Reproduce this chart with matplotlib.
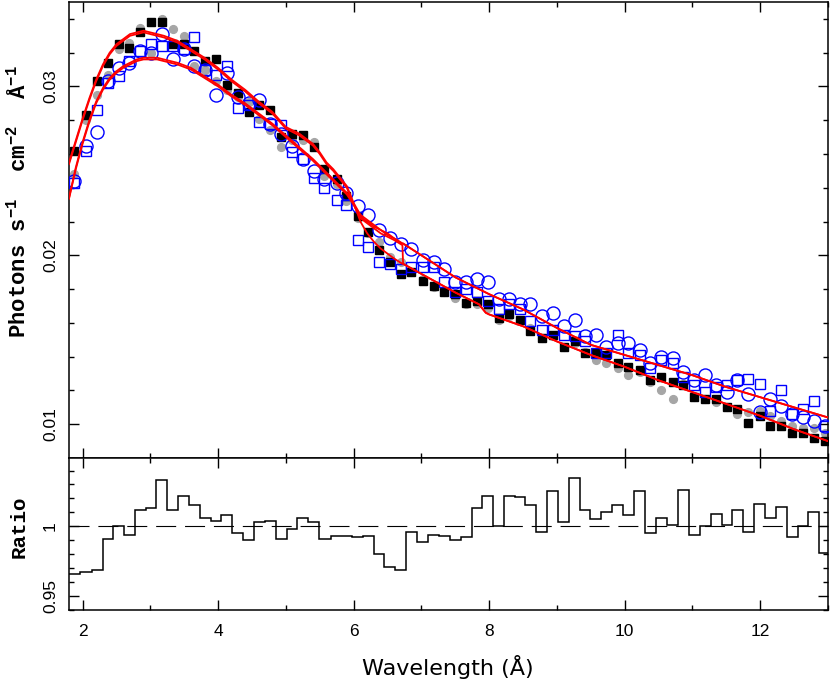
import matplotlib
matplotlib.use('Agg')
import matplotlib.pyplot as plt
from matplotlib.ticker import MultipleLocator, FormatStrFormatter
import numpy as np

# wavelength of each spectral bin (Angstrom)
wave = [1.88, 2.05, 2.22, 2.37, 2.54, 2.69, 2.85, 3.01, 3.17, 3.33,
        3.50, 3.65, 3.81, 3.97, 4.13, 4.29, 4.45, 4.61, 4.77, 4.93,
        5.09, 5.25, 5.41, 5.57, 5.75, 5.89, 6.06, 6.21, 6.38, 6.53,
        6.70, 6.85, 7.02, 7.18, 7.34, 7.50, 7.66, 7.82, 7.98, 8.14,
        8.30, 8.46, 8.61, 8.78, 8.94, 9.10, 9.26, 9.42, 9.57, 9.73,
        9.90, 10.05, 10.22, 10.38, 10.54, 10.71, 10.86, 11.03, 11.19, 11.35,
        11.51, 11.66, 11.82, 11.99, 12.15, 12.31, 12.47, 12.63, 12.79, 12.95]

flux_black = [0.0262, 0.0283, 0.0303, 0.0314, 0.0325, 0.0323, 0.0332, 0.0338, 0.0338, 0.0325,
              0.0325, 0.0321, 0.0315, 0.0316, 0.0301, 0.0296, 0.0285, 0.0289, 0.0286, 0.0270,
              0.0272, 0.0271, 0.0264, 0.0251, 0.0245, 0.0235, 0.0223, 0.0214, 0.0203, 0.0196,
              0.0189, 0.0190, 0.0185, 0.0182, 0.0178, 0.0177, 0.0172, 0.0173, 0.0171, 0.0163,
              0.0165, 0.0162, 0.0155, 0.0151, 0.0153, 0.0146, 0.0149, 0.0142, 0.0142, 0.0141,
              0.0136, 0.0134, 0.0132, 0.0126, 0.0128, 0.0125, 0.0123, 0.0116, 0.0115, 0.0115,
              0.0110, 0.0109, 0.0101, 0.0105, 0.0099, 0.0099, 0.0095, 0.0095, 0.0092, 0.0090]

flux_gray = [0.0248, 0.0280, 0.0295, 0.0307, 0.0322, 0.0326, 0.03345, 0.0320, 0.0340, 0.0334,
             0.0330, 0.0312, 0.0310, 0.0303, 0.0298, 0.0294, 0.0291, 0.0281, 0.0274, 0.0264,
             0.0268, 0.0268, 0.0267, 0.0247, 0.0242, 0.0232, 0.0222, 0.0213, 0.0208, 0.0199,
             0.0196, 0.0190, 0.0186, 0.0181, 0.0178, 0.0175, 0.0171, 0.0171, 0.0169, 0.0162,
             0.0164, 0.0161, 0.0157, 0.0151, 0.0152, 0.0146, 0.0148, 0.0143, 0.0138, 0.0136,
             0.0133, 0.0129, 0.0131, 0.0125, 0.0120, 0.0115, 0.0124, 0.0116, 0.0115, 0.0113,
             0.0110, 0.0106, 0.0107, 0.0108, 0.0105, 0.0102, 0.0099, 0.0098, 0.0098, 0.0095]

flux_bsq = [0.0243, 0.0262, 0.0286, 0.0302, 0.0306, 0.0315, 0.0321, 0.0325, 0.0324, 0.0324,
            0.0322, 0.0329, 0.0310, 0.0307, 0.0312, 0.0287, 0.0289, 0.0279, 0.0278, 0.0277,
            0.0261, 0.0257, 0.0246, 0.0240, 0.0233, 0.0230, 0.0209, 0.0205, 0.0196, 0.0195,
            0.0192, 0.0193, 0.0193, 0.0193, 0.0184, 0.0178, 0.0180, 0.0178, 0.0173, 0.0168,
            0.0171, 0.0168, 0.0161, 0.0156, 0.0156, 0.0153, 0.0152, 0.0149, 0.0142, 0.0142,
            0.0153, 0.0142, 0.0141, 0.0133, 0.0138, 0.0136, 0.0128, 0.0123, 0.0119, 0.0122,
            0.0123, 0.0126, 0.0127, 0.0124, 0.0108, 0.0120, 0.0106, 0.0109, 0.0114, 0.0099]

flux_bci = [0.0244, 0.0265, 0.0273, 0.0303, 0.0311, 0.0314, 0.0321, 0.0320, 0.0331, 0.0316,
            0.0322, 0.0312, 0.0310, 0.0295, 0.0308, 0.0294, 0.0290, 0.0292, 0.0278, 0.0272,
            0.0265, 0.0257, 0.0250, 0.0245, 0.0243, 0.0237, 0.0229, 0.0224, 0.0215, 0.0210,
            0.0207, 0.0204, 0.0197, 0.0196, 0.0192, 0.0184, 0.0184, 0.0186, 0.0184, 0.0174,
            0.0174, 0.0171, 0.0171, 0.0164, 0.0166, 0.0158, 0.0162, 0.0152, 0.0153, 0.0146,
            0.0148, 0.0148, 0.0144, 0.0136, 0.0140, 0.0139, 0.0131, 0.0126, 0.0129, 0.0123,
            0.0119, 0.0126, 0.0118, 0.0107, 0.0115, 0.0111, 0.0106, 0.0104, 0.0102, 0.0099]

ratio = [0.966, 0.967, 0.969, 0.991, 1.000, 0.994, 1.012, 1.013, 1.033, 1.012,
         1.022, 1.015, 1.006, 1.004, 1.008, 0.995, 0.990, 1.003, 1.004, 0.991,
         0.998, 1.006, 1.003, 0.991, 0.993, 0.993, 0.992, 0.993, 0.980, 0.971,
         0.969, 0.996, 0.989, 0.994, 0.993, 0.990, 0.992, 1.013, 1.022, 1.000,
         1.022, 1.021, 1.015, 0.996, 1.025, 1.003, 1.035, 1.012, 1.005, 1.010,
         1.015, 1.008, 1.025, 0.995, 1.006, 1.001, 1.026, 0.994, 1.000, 1.009,
         1.001, 1.012, 0.996, 1.016, 1.006, 1.014, 0.992, 1.000, 1.010, 0.981]

# model curves
model_wave = [1.8, 1.9, 2.0, 2.1, 2.2, 2.3, 2.4, 2.5, 2.6, 2.7,
              2.8, 2.9, 3.0, 3.1, 3.2, 3.4, 3.6, 3.8, 4.0, 4.2,
              4.4, 4.6, 4.8, 5.0, 5.2, 5.4, 5.5, 5.6, 5.7, 5.8,
              5.9, 6.0, 6.1, 6.2, 6.3, 6.4, 6.5, 6.6, 6.72, 6.73,
              7.0, 7.5, 7.85, 7.95, 8.0, 8.5, 9.0, 9.5, 10.0, 10.5,
              11.0, 11.5, 12.0, 12.5, 13.0]

model_black = [0.0255, 0.0268, 0.0281, 0.0293, 0.0304, 0.0313, 0.0320, 0.0325, 0.0328, 0.0331,
               0.0332, 0.0333, 0.0332, 0.0331, 0.0330, 0.0327, 0.0322, 0.0317, 0.0311, 0.0304,
               0.0298, 0.0291, 0.0285, 0.0276, 0.0272, 0.0266, 0.0261, 0.0255, 0.0251, 0.0246,
               0.0241, 0.0231, 0.0220, 0.0213, 0.0208, 0.0204, 0.0201, 0.0198, 0.0195, 0.0195,
               0.0189, 0.0178, 0.0171, 0.0166, 0.0165, 0.0158, 0.0149, 0.0141, 0.0134, 0.0126,
               0.0119, 0.0112, 0.0105, 0.0097, 0.0090]

model_gray = [0.0254, 0.0267, 0.0280, 0.0292, 0.0303, 0.0312, 0.0319, 0.0324, 0.0327, 0.0330,
              0.0331, 0.0332, 0.0331, 0.0330, 0.0329, 0.0326, 0.0321, 0.0316, 0.0310, 0.0303,
              0.0297, 0.0290, 0.0284, 0.0275, 0.0271, 0.0265, 0.0260, 0.0254, 0.0250, 0.0245,
              0.0240, 0.0230, 0.0222, 0.0219, 0.0216, 0.0213, 0.0211, 0.0209, 0.0206, 0.0195,
              0.0189, 0.0178, 0.0171, 0.0166, 0.0165, 0.0158, 0.0149, 0.0141, 0.0134, 0.0126,
              0.0119, 0.0112, 0.0105, 0.0097, 0.0090]

model_bsq = [0.02335, 0.0251, 0.0266, 0.0279, 0.0290, 0.0298, 0.0304, 0.0308, 0.0311, 0.0313,
             0.0315, 0.0316, 0.0316, 0.0316, 0.0315, 0.0313, 0.0310, 0.0305, 0.0300, 0.0294,
             0.0289, 0.0283, 0.0277, 0.0270, 0.0263, 0.0256, 0.0252, 0.0248, 0.0244, 0.0240,
             0.0236, 0.0230, 0.0223, 0.0220, 0.0217, 0.0215, 0.0212, 0.0210, 0.0207, 0.0207,
             0.0200, 0.0187, 0.0180, 0.0178, 0.0177, 0.0168, 0.0157, 0.0147, 0.0141, 0.0135,
             0.0129, 0.0122, 0.0116, 0.0110, 0.0104]

model_bci = [0.0234, 0.0252, 0.0267, 0.0280, 0.0291, 0.0299, 0.0305, 0.0309, 0.0312, 0.0314,
             0.0316, 0.0317, 0.0317, 0.0317, 0.0316, 0.0314, 0.0311, 0.0306, 0.0301, 0.0295,
             0.0290, 0.0284, 0.0278, 0.0271, 0.0264, 0.0257, 0.0253, 0.0249, 0.0245, 0.0241,
             0.0237, 0.0231, 0.0224, 0.0221, 0.0218, 0.0215, 0.0213, 0.0210, 0.0207, 0.0207,
             0.0200, 0.0187, 0.0180, 0.0178, 0.0177, 0.0168, 0.0157, 0.0147, 0.0141, 0.0135,
             0.0129, 0.0122, 0.0116, 0.0110, 0.0104]

plt.rcParams['font.family'] = ['Liberation Sans', 'DejaVu Sans']
plt.rcParams['mathtext.fontset'] = 'custom'
plt.rcParams['mathtext.rm'] = 'Liberation Mono:bold'
plt.rcParams['mathtext.it'] = 'Liberation Mono:bold'
plt.rcParams['mathtext.bf'] = 'Liberation Mono:bold'
plt.rcParams['axes.linewidth'] = 1.1

fig = plt.figure(figsize=(8.3, 6.85), dpi=100)
ax1 = fig.add_axes([69/830, 1-458/685, 759/830, 456/685])
ax2 = fig.add_axes([69/830, 1-610/685, 759/830, 152/685])

# data points
ax1.plot(wave, flux_gray, 'o', color='#a6a6a6', ms=5.6, mec='#a6a6a6', zorder=2)
ax1.plot(wave, flux_black, 's', color='black', ms=5.8, mec='black', zorder=3)
ax1.plot(wave, flux_bsq, 's', mfc='none', mec='blue', ms=7.8, mew=1.0, zorder=3)
ax1.plot(wave, flux_bci, 'o', mfc='none', mec='blue', ms=9.4, mew=1.0, zorder=3)

# model curves
for m in (model_black, model_gray, model_bsq, model_bci):
    ax1.plot(model_wave, m, color='red', lw=1.3, zorder=4)

ax1.set_xlim(1.8, 13.0)
ax1.set_ylim(0.008, 0.035)
ax1.xaxis.set_major_locator(MultipleLocator(2))
ax1.xaxis.set_minor_locator(MultipleLocator(1))
ax1.yaxis.set_major_locator(MultipleLocator(0.01))
ax1.yaxis.set_minor_locator(MultipleLocator(0.002))
ax1.yaxis.set_major_formatter(FormatStrFormatter('%g'))
ax1.tick_params(labelbottom=False)

# ratio panel
w = np.array(wave)
edges = np.concatenate([[w[0] - (w[1] - w[0]) / 2], (w[:-1] + w[1:]) / 2, [w[-1] + (w[-1] - w[-2]) / 2]])
ax2.stairs(ratio, edges, baseline=None, color='black', lw=1.1)
ax2.axhline(1.0, color='black', lw=0.8, ls=(0, (18, 8)))
ax2.set_xlim(1.8, 13.0)
ax2.set_ylim(0.94, 1.049)
ax2.xaxis.set_major_locator(MultipleLocator(2))
ax2.xaxis.set_minor_locator(MultipleLocator(1))
ax2.yaxis.set_major_locator(MultipleLocator(0.05))
ax2.yaxis.set_minor_locator(MultipleLocator(0.01))
ax2.yaxis.set_major_formatter(FormatStrFormatter('%g'))
ax2.xaxis.set_major_formatter(FormatStrFormatter('%g'))

for ax in (ax1, ax2):
    ax.tick_params(which='both', direction='in', top=True, right=True, width=1.0, labelsize=12.5)
    ax.tick_params(which='major', length=7)
    ax.tick_params(which='minor', length=3.5)
    ax.tick_params(axis='x', pad=10)
    ax.tick_params(axis='y', pad=8)
    for lab in ax.get_yticklabels():
        lab.set_rotation(90)
        lab.set_va('center')

fig.text(19/830, 1-202/685, r'Photons s$^{-1}$  cm$^{-2}$  Å$^{-1}$', rotation=90,
         ha='center', va='center', fontsize=16, fontweight='bold',
         family=['Liberation Mono', 'DejaVu Sans'])
fig.text(19/830, 1-527/685, 'Ratio', rotation=90, ha='center', va='center',
         fontsize=15, fontweight='bold', family=['Liberation Mono', 'DejaVu Sans'])
fig.text(448/830, 1-667/685, 'Wavelength (Å)', ha='center', va='center',
         fontsize=16, family=['Liberation Sans Narrow', 'DejaVu Sans'])

plt.savefig('out.png', dpi=100)
